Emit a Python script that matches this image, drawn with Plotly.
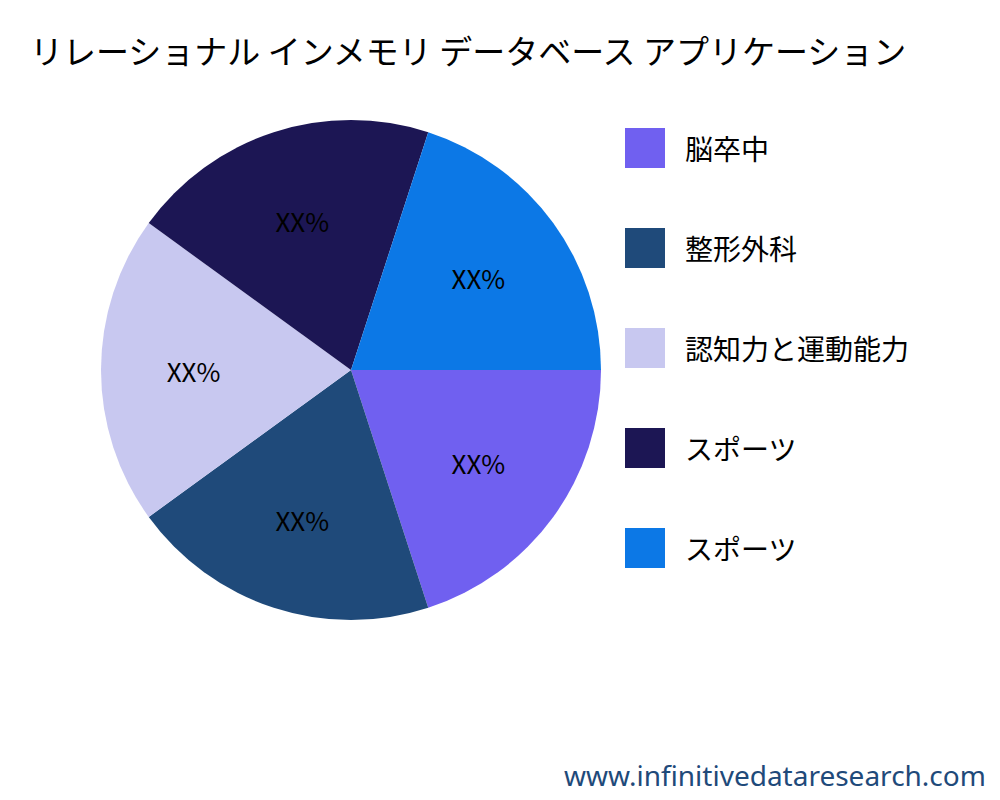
import plotly.graph_objects as go

labels = ["脳卒中", "整形外科", "認知力と運動能力", "スポーツ", "スポーツ\u200b"]
values = [20, 20, 20, 20, 20]
colors = ["#7060F0", "#1F4A7A", "#C8C8F0", "#1C1654", "#0C78E6"]

fig = go.Figure(go.Pie(
    labels=labels, values=values, sort=False, direction="clockwise", rotation=90,
    marker=dict(colors=colors), texttemplate="XX%", textposition="inside",
    insidetextfont=dict(color="black", size=26, family="Noto Sans CJK JP"),
    hoverinfo="label+percent", showlegend=False,
    domain=dict(x=[0.093, 0.593], y=[0.235, 0.86]),
))

# legend drawn by hand to get the large, widely spaced swatches
shapes, annotations = [], []
for i, (lab, col) in enumerate(zip(labels, colors)):
    yc = 140 + i * 100
    shapes.append(dict(type="rect", xref="paper", yref="paper",
                       x0=0.617, x1=0.657, y0=1 - (yc + 20) / 800, y1=1 - (yc - 20) / 800,
                       fillcolor=col, line=dict(width=0)))
    annotations.append(dict(text=lab, x=0.675, y=1 - yc / 800, xref="paper", yref="paper",
                            xanchor="left", yanchor="middle", showarrow=False,
                            font=dict(size=28)))

annotations.append(dict(text="www.infinitivedataresearch.com", x=0.98, y=0.015, xref="paper",
                        yref="paper", xanchor="right", yanchor="bottom", showarrow=False,
                        font=dict(size=28, color="#1F4A7A", family="Noto Sans")))

fig.update_layout(
    width=1000, height=800, paper_bgcolor="white", plot_bgcolor="white",
    font=dict(family="Noto Sans CJK JP", color="black"),
    title=dict(text="リレーショナル インメモリ データベース アプリケーション", x=0.022, y=0.945,
               xanchor="left", yanchor="middle", font=dict(size=33)),
    margin=dict(l=0, r=0, t=0, b=0),
    shapes=shapes, annotations=annotations,
)

fig.write_html("out.html")
